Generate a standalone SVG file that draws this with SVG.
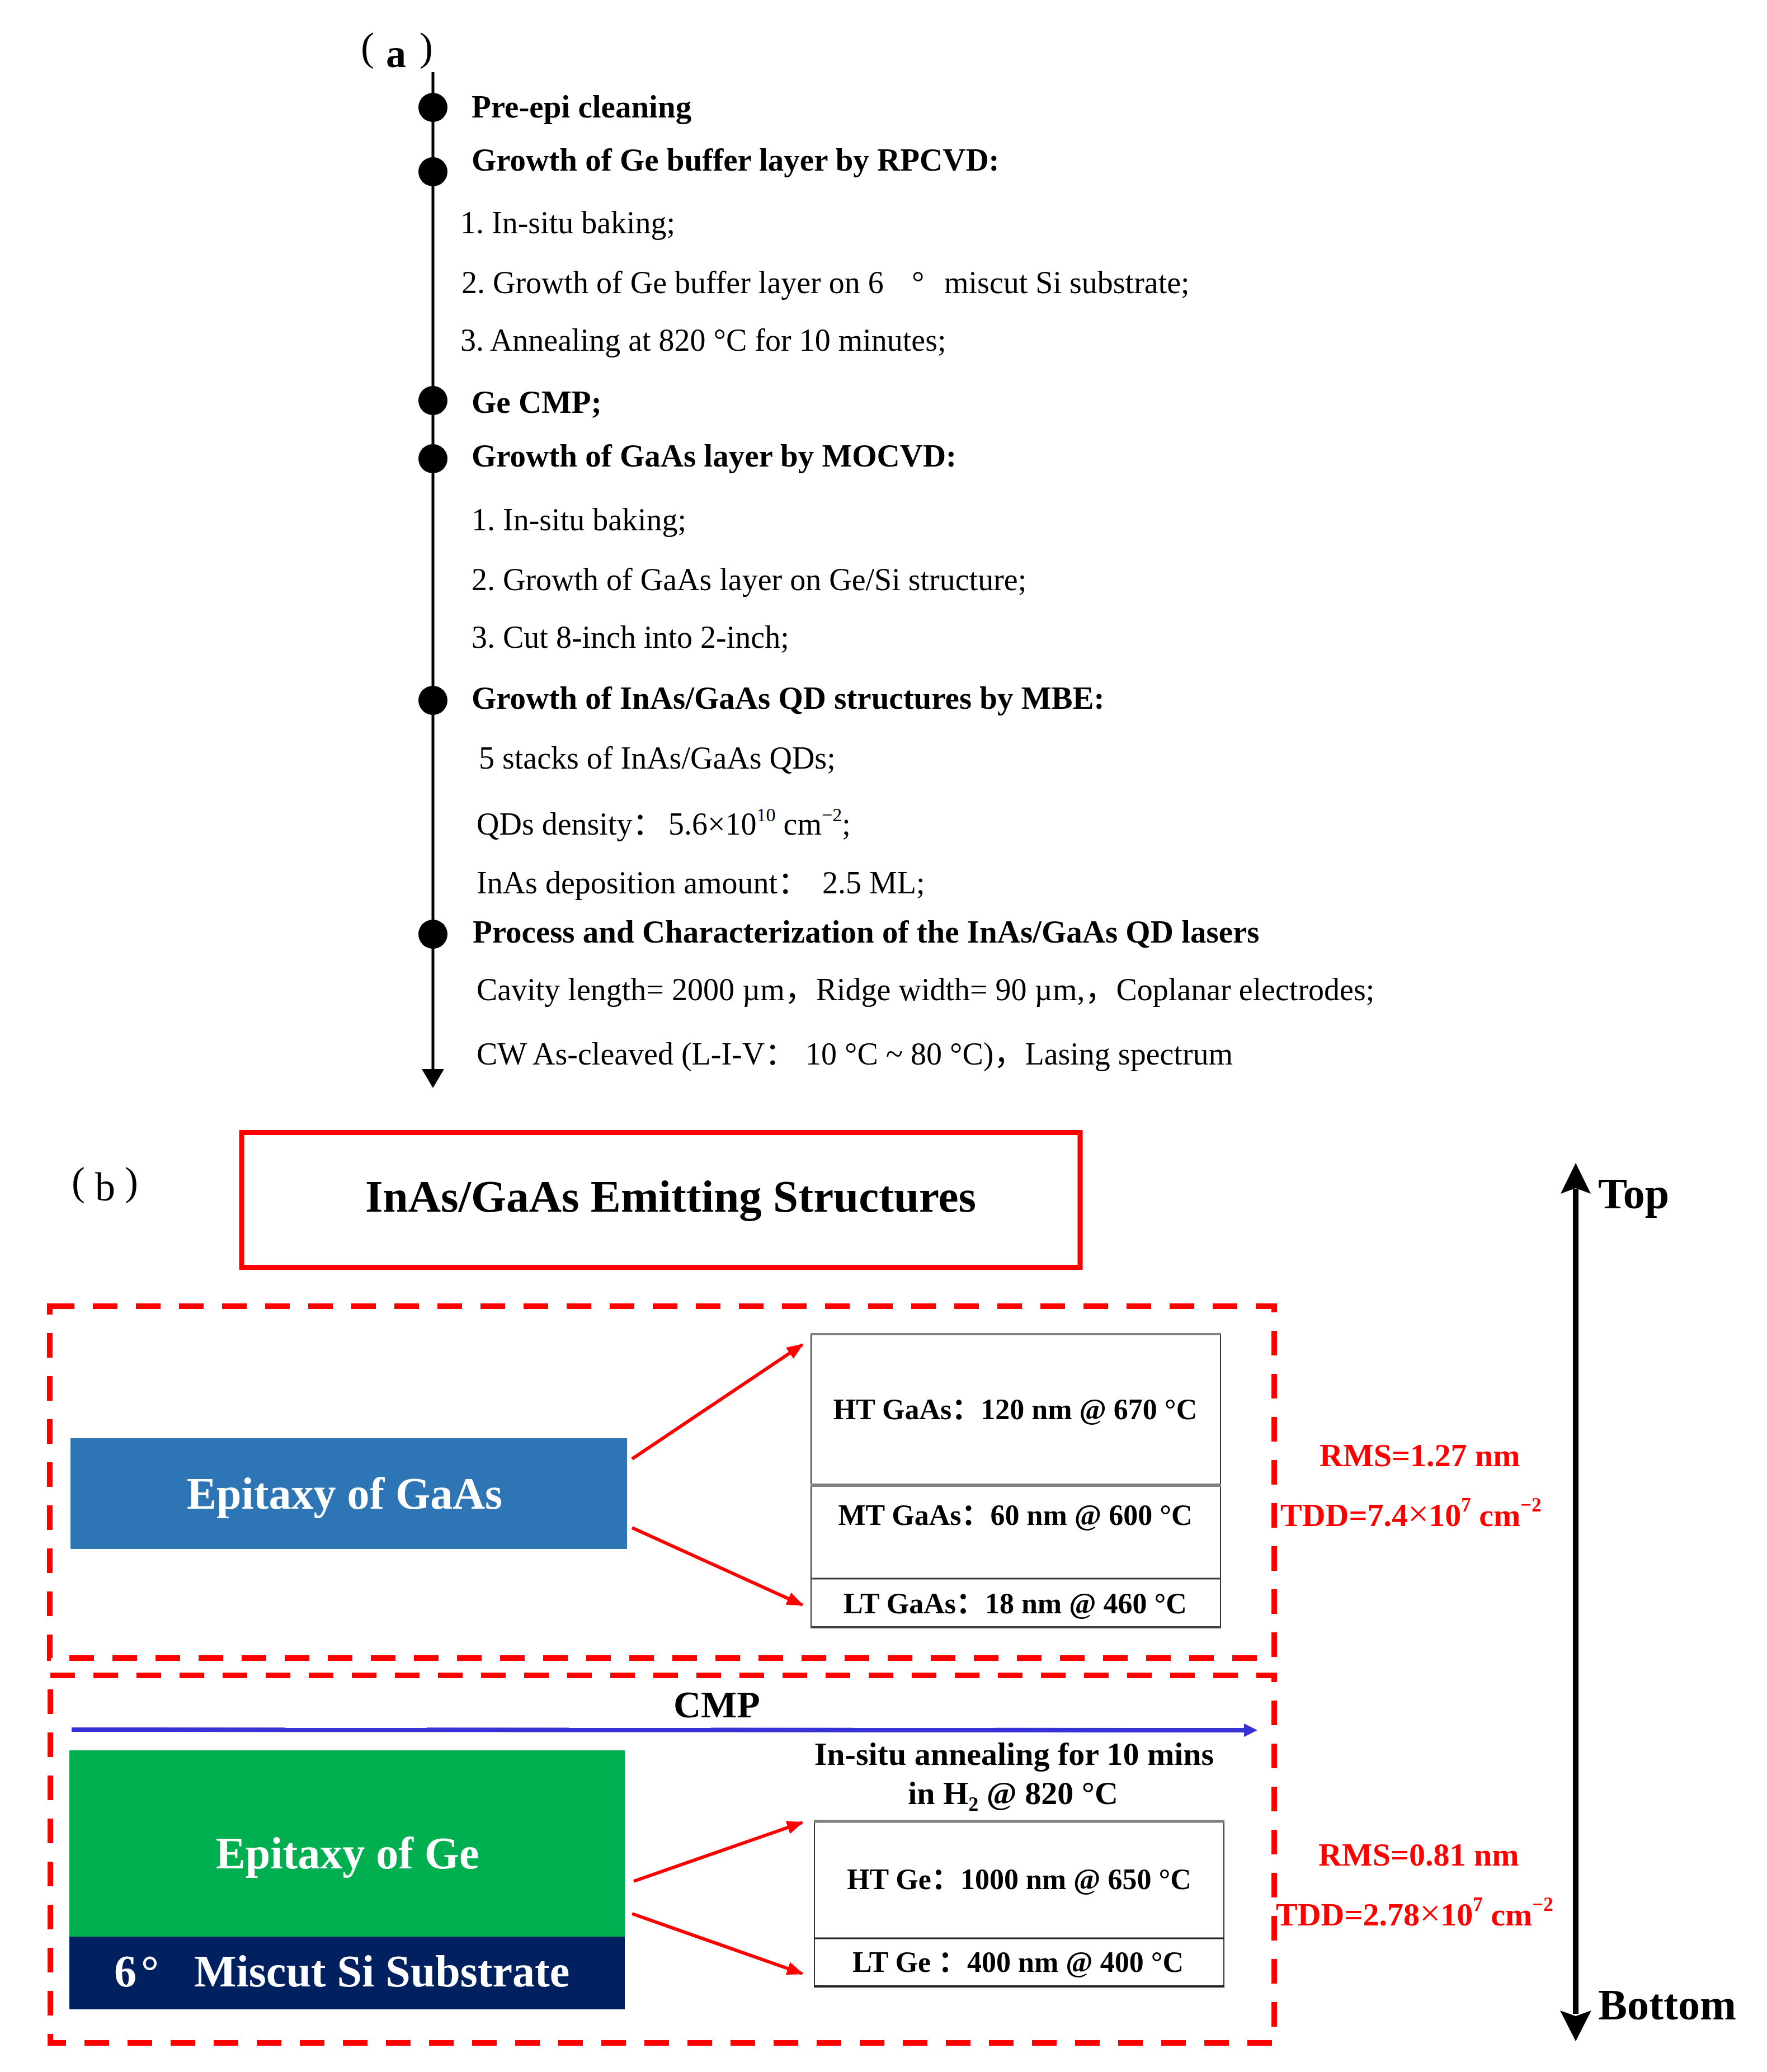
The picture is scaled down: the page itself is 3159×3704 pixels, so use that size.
<svg xmlns="http://www.w3.org/2000/svg" width="3159" height="3704" viewBox="0 0 3159 3704">
<style>
text{font-family:"Liberation Serif","Times New Roman","Noto Sans CJK SC",serif;fill:#000}
.r{font-size:56px}
.b{font-size:57px;font-weight:bold}
.w{fill:#fff;font-weight:bold;font-size:80px}
.tb{font-weight:bold;font-size:52px;text-anchor:middle}
.red{fill:#f00;font-weight:bold;font-size:58px}
.dash{fill:none;stroke:#f00;stroke-width:10;stroke-dasharray:44 33}
.rarr{stroke:#f00;stroke-width:6;fill:none;marker-end:url(#rh)}
</style>
<defs>
<marker id="rh" markerWidth="5" markerHeight="4" refX="4.5" refY="2" orient="auto" markerUnits="strokeWidth">
<path d="M0,0 L5,2 L0,4 Z" fill="#f00"/>
</marker>
</defs>
<rect width="3159" height="3704" fill="#fff"/>

<!-- Part (a) -->
<g id="label-a">
<text x="645" y="108" style="font-size:72px">(</text>
<text x="690" y="120" style="font-size:72px;font-weight:bold">a</text>
<text x="750" y="108" style="font-size:72px">)</text>
</g>
<g id="timeline">
<line x1="774" y1="129" x2="774" y2="1915" stroke="#000" stroke-width="5"/>
<polygon points="754,1911 794,1911 774,1945" fill="#000"/>
<circle cx="774" cy="192" r="26"/>
<circle cx="774" cy="307" r="26"/>
<circle cx="774" cy="716" r="26"/>
<circle cx="774" cy="820" r="26"/>
<circle cx="774" cy="1252" r="26"/>
<circle cx="774" cy="1670" r="26"/>
</g>
<g id="step1"><text class="b" x="843" y="210">Pre-epi cleaning</text></g>
<g id="step2">
<text class="b" x="843" y="305">Growth of Ge buffer layer by RPCVD:</text>
<text class="r" x="823" y="417">1. In-situ baking;</text>
<text class="r" x="825" y="524">2. Growth of Ge buffer layer on 6<tspan x="1630">°</tspan><tspan x="1688">miscut Si substrate;</tspan></text>
<text class="r" x="823" y="627">3. Annealing at 820 °C for 10 minutes;</text>
</g>
<g id="step3"><text class="b" x="843" y="738">Ge CMP;</text></g>
<g id="step4">
<text class="b" x="843" y="834">Growth of GaAs layer by MOCVD:</text>
<text class="r" x="843" y="948">1. In-situ baking;</text>
<text class="r" x="843" y="1055">2. Growth of GaAs layer on Ge/Si structure;</text>
<text class="r" x="843" y="1158">3. Cut 8-inch into 2-inch;</text>
</g>
<g id="step5">
<text class="b" x="843" y="1267">Growth of InAs/GaAs QD structures by MBE:</text>
<text class="r" x="856" y="1374">5 stacks of InAs/GaAs QDs;</text>
<text class="r" x="852" y="1492">QDs density：<tspan x="1195">5.6×10</tspan><tspan font-size="34" dy="-24">10</tspan><tspan dy="24"> cm</tspan><tspan font-size="34" dy="-24">−2</tspan><tspan dy="24">;</tspan></text>
<text class="r" x="852" y="1597">InAs deposition amount：<tspan x="1470">2.5 ML;</tspan></text>
</g>
<g id="step6">
<text class="b" x="845" y="1685">Process and Characterization of the InAs/GaAs QD lasers</text>
<text class="r" x="852" y="1788">Cavity length= 2000 µm，Ridge width= 90 µm,，Coplanar electrodes;</text>
<text class="r" x="852" y="1903">CW As-cleaved (L-I-V：<tspan x="1440">10 °C ~ 80 °C)，Lasing spectrum</tspan></text>
</g>

<!-- Part (b) -->
<g id="label-b">
<text x="128" y="2136" style="font-size:72px">(</text>
<text x="170" y="2146" style="font-size:72px">b</text>
<text x="223" y="2136" style="font-size:72px">)</text>
</g>
<g id="title">
<rect x="432" y="2024.5" width="1499" height="241" fill="none" stroke="#f00" stroke-width="9"/>
<text x="653" y="2166" style="font-size:81px;font-weight:bold">InAs/GaAs Emitting Structures</text>
</g>

<g id="gaas-section">
<rect class="dash" x="89" y="2335" width="2189" height="629"/>
<rect x="126" y="2571" width="995" height="198" fill="#2E75B6"/>
<text class="w" x="616" y="2697" text-anchor="middle">Epitaxy of GaAs</text>
</g>
<g id="gaas-table">
<line x1="1450" y1="2386" x2="1450" y2="2910" stroke="#333" stroke-width="2"/>
<line x1="2182" y1="2386" x2="2182" y2="2910" stroke="#333" stroke-width="2"/>
<line x1="1449" y1="2385" x2="2183" y2="2385" stroke="#7f7f7f" stroke-width="4"/>
<line x1="1449" y1="2655" x2="2183" y2="2655" stroke="#7f7f7f" stroke-width="6"/>
<line x1="1449" y1="2822" x2="2183" y2="2822" stroke="#404040" stroke-width="3"/>
<line x1="1449" y1="2909" x2="2183" y2="2909" stroke="#404040" stroke-width="4"/>
<text class="tb" x="1815" y="2537">HT GaAs：120 nm @ 670 °C</text>
<text class="tb" x="1815" y="2726">MT GaAs：60 nm @ 600 °C</text>
<text class="tb" x="1815" y="2884">LT GaAs：18 nm @ 460 °C</text>
</g>
<g id="gaas-metrics">
<text class="red" x="2359" y="2621">RMS=1.27 nm</text>
<text class="red" x="2289" y="2728">TDD=7.4<tspan font-size="66" font-weight="normal">×</tspan>10<tspan font-size="35" dy="-26">7</tspan><tspan dy="26"> cm</tspan><tspan font-size="35" dy="-26">−2</tspan></text>
</g>

<g id="ge-section">
<rect class="dash" x="90" y="2995" width="2188" height="657"/>
<rect x="124" y="3129" width="993" height="333" fill="#00B050"/>
<rect x="124" y="3462" width="993" height="130" fill="#002060"/>
<text class="w" x="621" y="3340" text-anchor="middle">Epitaxy of Ge</text>
<text class="w" x="204" y="3551">6<tspan x="252">°</tspan><tspan x="347">Miscut Si Substrate</tspan></text>
</g>
<g id="cmp">
<text x="1204" y="3070" style="font-size:68px;font-weight:bold">CMP</text>
<text x="1813" y="3155" style="font-size:58px;font-weight:bold" text-anchor="middle">In-situ annealing for 10 mins</text>
<text x="1811" y="3225" style="font-size:58px;font-weight:bold" text-anchor="middle">in H<tspan font-size="36" dy="12">2</tspan><tspan dy="-12"> @ 820 °C</tspan></text>
</g>
<g id="ge-table">
<line x1="1456" y1="3256" x2="1456" y2="3552" stroke="#333" stroke-width="2"/>
<line x1="2188" y1="3256" x2="2188" y2="3552" stroke="#333" stroke-width="2"/>
<line x1="1455" y1="3256" x2="2189" y2="3256" stroke="#7f7f7f" stroke-width="5"/>
<line x1="1455" y1="3465" x2="2189" y2="3465" stroke="#222" stroke-width="3"/>
<line x1="1455" y1="3551" x2="2189" y2="3551" stroke="#222" stroke-width="4"/>
<text class="tb" x="1822" y="3377">HT Ge：1000 nm @ 650 °C</text>
<text class="tb" x="1820" y="3525">LT Ge ：400 nm @ 400 °C</text>
</g>
<g id="ge-metrics">
<text class="red" x="2357" y="3335">RMS=0.81 nm</text>
<text class="red" x="2281" y="3442">TDD=2.78<tspan font-size="66" font-weight="normal">×</tspan>10<tspan font-size="35" dy="-26">7</tspan><tspan dy="26"> cm</tspan><tspan font-size="35" dy="-26">−2</tspan></text>
</g>

<g id="direction">
<line x1="2817" y1="2125" x2="2817" y2="3600" stroke="#000" stroke-width="10"/>
<polygon points="2817,2079 2844,2134 2817,2124 2790,2134" fill="#000"/>
<polygon points="2817,3649 2845,3594 2817,3604 2789,3594" fill="#000"/>
<text x="2857" y="2160" style="font-size:78px;font-weight:bold">Top</text>
<text x="2857" y="3610" style="font-size:78px;font-weight:bold">Bottom</text>
</g>

<g id="connectors">
<line class="rarr" x1="1130" y1="2608" x2="1434" y2="2404"/>
<line class="rarr" x1="1130" y1="2731" x2="1434" y2="2869"/>
<line class="rarr" x1="1133" y1="3363" x2="1434" y2="3258"/>
<line class="rarr" x1="1130" y1="3421" x2="1434" y2="3528"/>
<line x1="128" y1="3092" x2="2228" y2="3093" stroke="#3732D6" stroke-width="8"/>
<polygon points="2224,3081 2248,3093 2224,3105" fill="#3732D6"/>
</g>
</svg>
